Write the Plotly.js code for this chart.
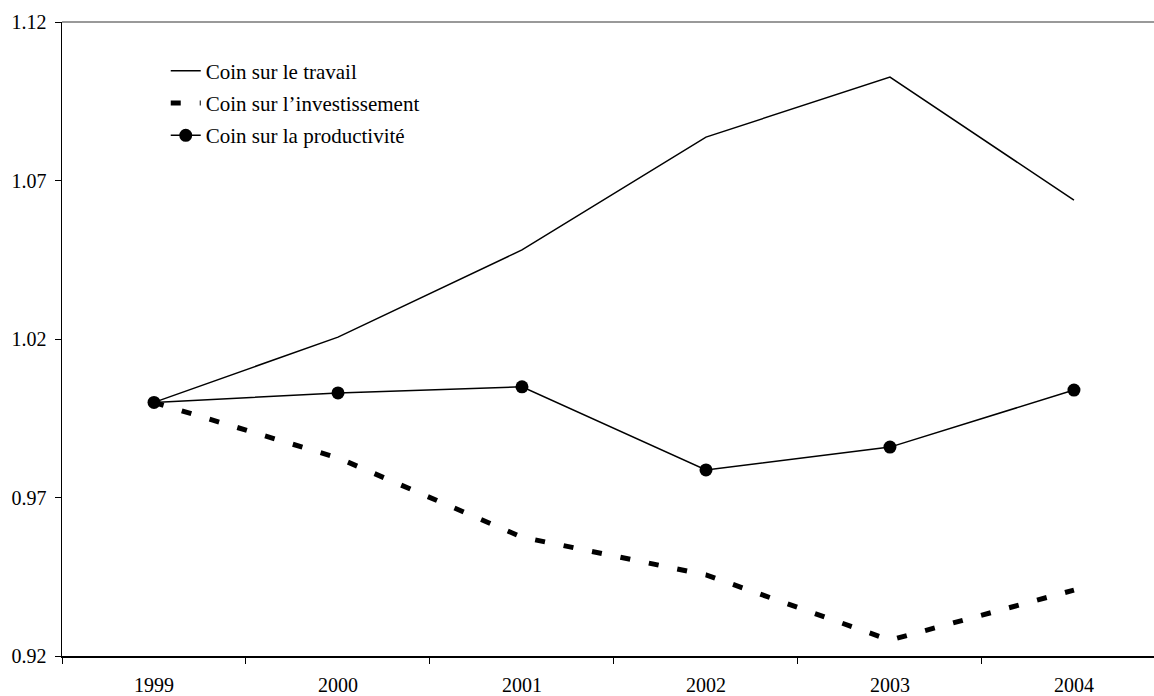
<!DOCTYPE html>
<html>
<head>
<meta charset="utf-8">
<script src="https://cdn.plot.ly/plotly-3.0.1.min.js"></script>
<style>html,body{margin:0;padding:0;background:#fff;}</style>
</head>
<body>
<div id="chart" style="width:1154px;height:696px;"></div>
<script>
const years = ["1999", "2000", "2001", "2002", "2003", "2004"];
const travail = [1.000, 1.0206, 1.0481, 1.0837, 1.1026, 1.0638];
const investissement = [1.000, 0.9825, 0.9575, 0.9456, 0.9250, 0.9408];
const productivite = [1.000, 1.0030, 1.0049, 0.9787, 0.9859, 1.0039];
const names = ["Coin sur le travail", "Coin sur l\u2019investissement", "Coin sur la productivit\u00e9"];
const yTicks = [0.92, 0.97, 1.02, 1.07, 1.12];
const yTickLabels = ["0.92", "0.97", "1.02", "1.07", "1.12"];

const fam = "Liberation Serif, Times New Roman, serif";
const tickFont = {family: fam, size: 20, color: "#000"};
const legFont = {family: fam, size: 21, color: "#000"};

const traces = [
  {x: years, y: travail, name: names[0], type: "scatter", mode: "lines",
   line: {color: "#000", width: 1.5}, legendgroup: "a"},
  {x: years, y: investissement, name: names[1], type: "scatter", mode: "lines",
   line: {color: "#000", width: 5, dash: "10px,19px"}, legendgroup: "b"},
  {x: years, y: productivite, name: names[2], type: "scatter", mode: "lines+markers",
   line: {color: "#000", width: 1.5}, marker: {color: "#000", size: 13}, legendgroup: "c"}
];

const layout = {
  width: 1154, height: 696,
  margin: {l: 62, r: 0, t: 22, b: 40},
  paper_bgcolor: "#fff", plot_bgcolor: "#fff",
  font: tickFont,
  showlegend: true,
  legend: {x: 0.095, y: 0.955, xanchor: "left", yanchor: "top", bgcolor: "rgba(0,0,0,0)",
           font: legFont, traceorder: "grouped", tracegroupgap: 2},
  xaxis: {type: "category", range: [-0.5, 5.435], showgrid: false, zeroline: false,
          showline: true, linecolor: "#000", linewidth: 1.5,
          ticks: "outside", tickson: "boundaries", ticklen: 6, tickcolor: "#000", tickwidth: 1,
          ticklabelstandoff: 10, tickfont: tickFont, fixedrange: true},
  yaxis: {range: [0.92, 1.12], tickvals: yTicks, ticktext: yTickLabels, showgrid: false, zeroline: false,
          showline: true, linecolor: "#000", linewidth: 1.5,
          ticks: "outside", ticklen: 6, tickcolor: "#000", tickwidth: 1,
          ticklabelstandoff: 4, tickfont: tickFont, fixedrange: true},
  shapes: [{type: "line", xref: "paper", yref: "paper", x0: 0, x1: 1, y0: 1, y1: 1,
            line: {color: "#999", width: 2}}]
};

Plotly.newPlot("chart", traces, layout, {displayModeBar: false, staticPlot: true});
</script>
</body>
</html>
